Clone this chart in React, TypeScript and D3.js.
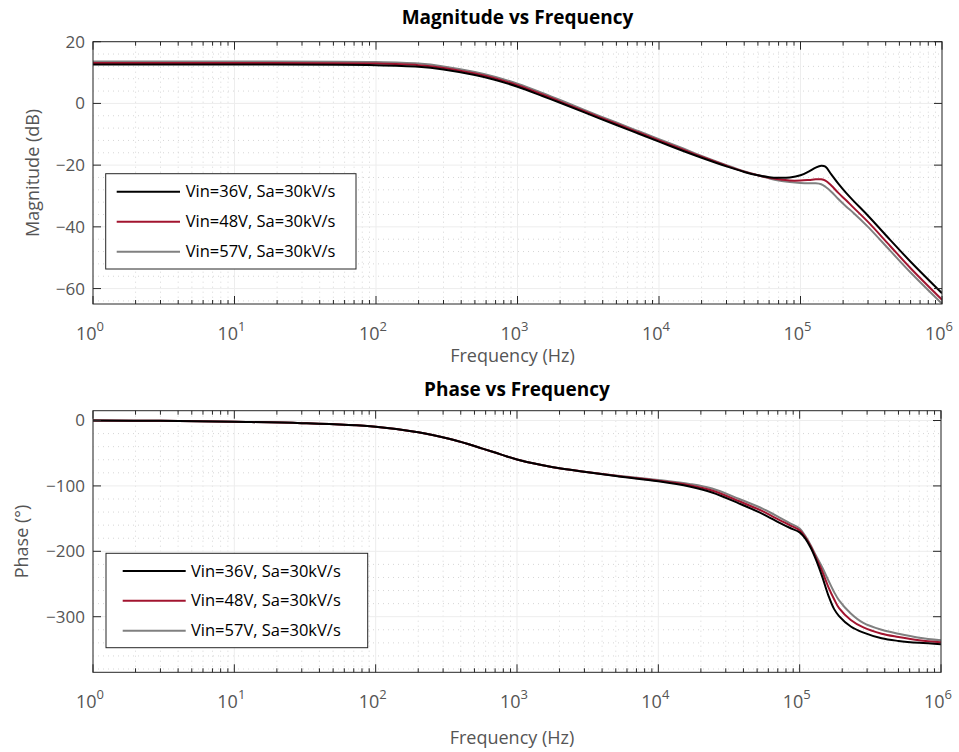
import React from "react";
import * as d3 from "d3";

const seriesNames = ["Vin=36V, Sa=30kV/s", "Vin=48V, Sa=30kV/s", "Vin=57V, Sa=30kV/s"];
const seriesColors = ["#000000", "#A2142F", "#808080"];

const magFreq = [1, 10, 100, 200, 300, 500, 700, 1000, 1500, 2000, 3000, 5000, 7000, 10000, 15000, 20000, 30000, 40000, 50000, 60000, 70000, 84000, 100000, 115000, 128000, 140000, 150000, 165000, 185000, 210000, 236000, 300000, 430000, 600000, 1000000];
const magBlack = [12.6, 12.6, 12.4, 11.9, 11.0, 9.2, 7.6, 5.4, 2.4, 0.2, -3.0, -7.0, -9.6, -12.4, -15.5, -17.6, -20.4, -22.2, -23.3, -23.9, -24.1, -24.0, -23.3, -22.0, -20.8, -20.2, -20.5, -23.0, -26.0, -29.0, -31.5, -36.4, -44.2, -51.3, -61.5];
const magRed = [13.1, 13.1, 12.9, 12.4, 11.5, 9.7, 8.1, 5.9, 2.9, 0.6, -2.6, -6.6, -9.2, -12.0, -15.1, -17.3, -20.2, -22.1, -23.3, -24.1, -24.6, -25.0, -25.0, -24.8, -24.6, -24.6, -25.0, -26.6, -29.0, -31.4, -33.7, -38.4, -46.2, -53.4, -63.6];
const magGray = [13.6, 13.6, 13.4, 12.9, 12.0, 10.2, 8.6, 6.4, 3.4, 1.1, -2.2, -6.2, -8.8, -11.6, -14.7, -17.0, -20.0, -22.0, -23.3, -24.3, -25.0, -25.5, -25.8, -25.9, -25.9, -26.2, -27.0, -28.6, -31.0, -33.4, -35.4, -40.0, -47.7, -54.8, -64.9];

const phaseFreq = [1, 3, 10, 30, 100, 200, 330, 450, 570, 700, 850, 1000, 1300, 1800, 2800, 5000, 10000, 16600, 24000, 37400, 55000, 71600, 85000, 100000, 110000, 120000, 130000, 144000, 160000, 175000, 190000, 230000, 280000, 380000, 500000, 700000, 1000000];
const phaseBlack = [0, -0.5, -2, -4, -9.5, -18, -28, -36, -43, -49, -55, -59.5, -65.5, -71.5, -77.5, -85, -93, -101, -110, -127, -143, -156, -164, -171, -181, -195, -212, -238, -268, -288, -299, -315, -324, -333, -337, -340, -342];
const phaseRed = [0, -0.5, -2, -4, -9.5, -18, -28, -36, -43, -49, -55, -59.5, -65.5, -71.5, -77.5, -84.5, -92, -99, -107, -123.5, -139, -152, -160, -168, -179, -193, -209, -230, -255, -273, -287, -305, -316, -326, -331, -336, -339];
const phaseGray = [0, -0.5, -2, -4, -9.5, -18, -28, -36, -43, -49, -55, -59.5, -65.5, -71.5, -77.5, -84, -91, -97, -104, -120, -135, -148, -157, -165, -177, -191, -206, -224, -245, -262, -275, -295, -309, -320, -326, -332, -336];

const xTickExps = [0, 1, 2, 3, 4, 5, 6];
const magTicks = [-60, -40, -20, 0, 20];
const phaseTicks = [-300, -200, -100, 0];

const FONT = "'Open Sans', 'DejaVu Sans', sans-serif";
const AXIS = "#262626";
const TXT = "#555555";

type PanelProps = {
  title: string;
  ylabel: string;
  ylabelX: number;
  left: number; right: number; top: number; bottom: number;
  ydomain: [number, number];
  yticks: number[];
  yminorStep: number;
  freq: number[];
  series: number[][];
  legend: { x: number; y: number; w: number; h: number; lineX0: number; lineX1: number; textX: number; rowY: number[] };
  titleY: number;
  tickLabelY: number;
  xlabelY: number;
  id: string;
};

function Panel(p: PanelProps) {
  const x = d3.scaleLog().domain([1, 1e6]).range([p.left, p.right]);
  const y = d3.scaleLinear().domain(p.ydomain).range([p.bottom, p.top]);
  const minorX: number[] = [];
  for (let k = 0; k < 6; k++) for (let m = 2; m <= 9; m++) minorX.push(m * Math.pow(10, k));
  const minorY: number[] = [];
  const lo = Math.ceil(p.ydomain[0] / p.yminorStep) * p.yminorStep;
  for (let v = lo; v <= p.ydomain[1]; v += p.yminorStep) if (!p.yticks.includes(v)) minorY.push(v);
  const line = d3.line<[number, number]>().x(d => x(d[0])).y(d => y(d[1])).curve(d3.curveCatmullRom.alpha(0.5));
  const cx = (p.left + p.right) / 2;
  return (
    <g>
      <defs>
        <clipPath id={p.id}>
          <rect x={p.left} y={p.top} width={p.right - p.left} height={p.bottom - p.top} />
        </clipPath>
      </defs>
      <rect x={p.left} y={p.top} width={p.right - p.left} height={p.bottom - p.top} fill="#fff" />
      {minorX.map((f, i) => (
        <line key={"mx" + i} x1={x(f)} x2={x(f)} y1={p.top} y2={p.bottom} stroke="#d6d6d6" strokeWidth={1} strokeDasharray="1,4" />
      ))}
      {minorY.map((v, i) => (
        <line key={"my" + i} x1={p.left} x2={p.right} y1={y(v)} y2={y(v)} stroke="#d6d6d6" strokeWidth={1} strokeDasharray="1,4" />
      ))}
      {xTickExps.map(e => (
        <line key={"gx" + e} x1={x(Math.pow(10, e))} x2={x(Math.pow(10, e))} y1={p.top} y2={p.bottom} stroke="#ededed" strokeWidth={1} />
      ))}
      {p.yticks.map(v => (
        <line key={"gy" + v} x1={p.left} x2={p.right} y1={y(v)} y2={y(v)} stroke="#ededed" strokeWidth={1} />
      ))}
      <g clipPath={`url(#${p.id})`}>
        {p.series.map((s, i) => (
          <path key={"s" + i} d={line(p.freq.map((f, j) => [f, s[j]] as [number, number])) || ""} fill="none" stroke={seriesColors[i]} strokeWidth={2} strokeLinejoin="round" />
        )).reverse()}
      </g>
      {xTickExps.map(e => {
        const xx = x(Math.pow(10, e));
        return (
          <g key={"tx" + e}>
            <line x1={xx} x2={xx} y1={p.bottom} y2={p.bottom - 8} stroke={AXIS} />
            <line x1={xx} x2={xx} y1={p.top} y2={p.top + 8} stroke={AXIS} />
          </g>
        );
      })}
      {minorX.map((f, i) => (
        <g key={"tmx" + i}>
          <line x1={x(f)} x2={x(f)} y1={p.bottom} y2={p.bottom - 4} stroke={AXIS} />
          <line x1={x(f)} x2={x(f)} y1={p.top} y2={p.top + 4} stroke={AXIS} />
        </g>
      ))}
      {p.yticks.map(v => (
        <g key={"ty" + v}>
          <line x1={p.left} x2={p.left + 8} y1={y(v)} y2={y(v)} stroke={AXIS} />
          <line x1={p.right} x2={p.right - 8} y1={y(v)} y2={y(v)} stroke={AXIS} />
        </g>
      ))}
      <rect x={p.left} y={p.top} width={p.right - p.left} height={p.bottom - p.top} fill="none" stroke={AXIS} strokeWidth={1} />
      {p.yticks.map(v => (
        <text key={"ly" + v} x={p.left - 8} y={y(v)} dy="0.35em" textAnchor="end" fontFamily={FONT} fontSize={17} fill={TXT}>
          {v < 0 ? "\u2212" + Math.abs(v) : String(v)}
        </text>
      ))}
      {xTickExps.map(e => (
        <text key={"lx" + e} x={x(Math.pow(10, e)) - 3} y={p.tickLabelY} textAnchor="middle" fontFamily={FONT} fontSize={18} fill={TXT}>
          10<tspan dy={-9} fontSize={13}>{e}</tspan>
        </text>
      ))}
      <text x={cx - 5} y={p.xlabelY} textAnchor="middle" fontFamily={FONT} fontSize={18} fill={TXT}>Frequency (Hz)</text>
      <text transform={`translate(${p.ylabelX},${(p.top + p.bottom) / 2}) rotate(-90)`} textAnchor="middle" fontFamily={FONT} fontSize={18} fill={TXT}>{p.ylabel}</text>
      <text x={cx} y={p.titleY} textAnchor="middle" fontFamily={FONT} fontSize={19} fontWeight="bold" fill="#000">{p.title}</text>
      <rect x={p.legend.x} y={p.legend.y} width={p.legend.w} height={p.legend.h} fill="#fff" stroke={AXIS} strokeWidth={1} />
      {seriesNames.map((n, i) => (
        <g key={"lg" + i}>
          <line x1={p.legend.lineX0} x2={p.legend.lineX1} y1={p.legend.rowY[i]} y2={p.legend.rowY[i]} stroke={seriesColors[i]} strokeWidth={2} />
          <text x={p.legend.textX} y={p.legend.rowY[i]} dy="0.35em" fontFamily={FONT} fontSize={16.5} fill="#000">{n}</text>
        </g>
      ))}
    </g>
  );
}

export default function App() {
  return (
    <svg width={959} height={752} style={{ position: "absolute", left: 0, top: 0, background: "#fff" }}>
      <rect x={0} y={0} width={959} height={752} fill="#fff" />
      <Panel
        id="clipMag"
        title="Magnitude vs Frequency"
        ylabel="Magnitude (dB)"
        ylabelX={39}
        left={93} right={942} top={41.7} bottom={304}
        ydomain={[-65, 20]}
        yticks={magTicks}
        yminorStep={4}
        freq={magFreq}
        series={[magBlack, magRed, magGray]}
        legend={{ x: 105.7, y: 173.7, w: 250.3, h: 95.3, lineX0: 116.7, lineX1: 180, textX: 185.7, rowY: [191.7, 221.7, 251.7] }}
        titleY={24}
        tickLabelY={340}
        xlabelY={362}
        />
      <Panel
        id="clipPhase"
        title="Phase vs Frequency"
        ylabel="Phase (°)"
        ylabelX={28}
        left={93} right={941} top={410.7} bottom={672.3}
        ydomain={[-385, 15]}
        yticks={phaseTicks}
        yminorStep={20}
        freq={phaseFreq}
        series={[phaseBlack, phaseRed, phaseGray]}
        legend={{ x: 106, y: 553.3, w: 261.7, h: 94.4, lineX0: 122.7, lineX1: 185.7, textX: 191, rowY: [571, 600.7, 630.7] }}
        titleY={396}
        tickLabelY={708}
        xlabelY={744}
        />
    </svg>
  );
}
